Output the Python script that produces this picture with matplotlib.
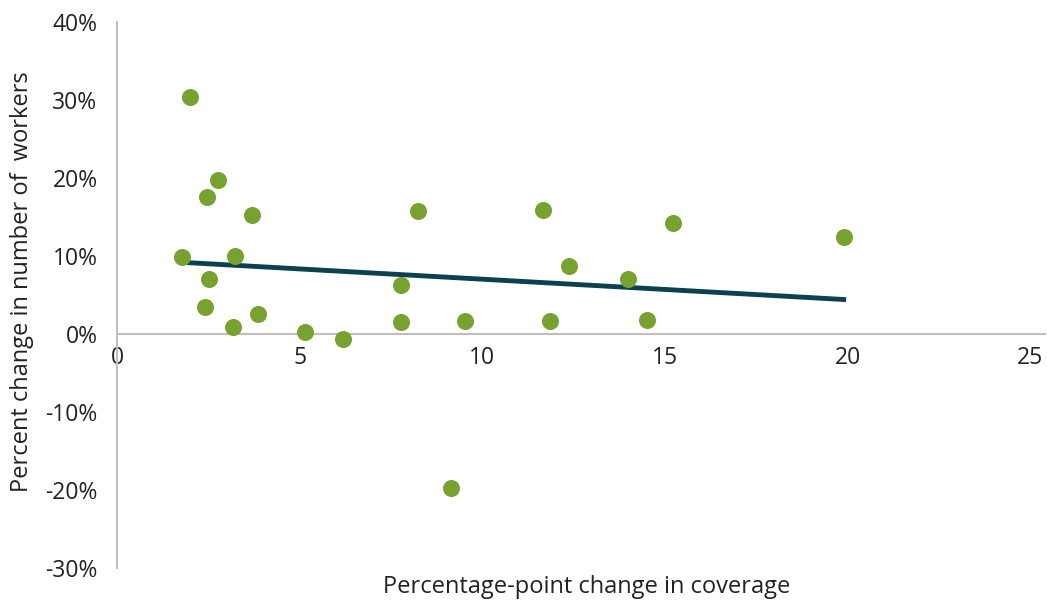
import numpy as np
import matplotlib.pyplot as plt

plt.rcParams['font.family'] = ['Open Sans', 'DejaVu Sans']

# percentage-point change in coverage
coverage = [2.0, 2.77, 2.47, 3.7, 1.78, 3.23, 2.52, 2.41, 3.86, 3.18, 5.15, 6.19,
            7.78, 7.78, 8.25, 9.15, 9.53, 11.67, 11.86, 12.38, 14.0, 14.52, 15.23, 19.89]
# percent change in number of workers
workers = [30.4, 19.7, 17.6, 15.3, 9.9, 10.0, 7.1, 3.5, 2.6, 0.9, 0.3, -0.6,
           6.3, 1.5, 15.8, -19.7, 1.7, 15.9, 1.7, 8.7, 7.1, 1.8, 14.2, 12.4]

x_ticks = [0, 5, 10, 15, 20, 25]
y_ticks = [-30, -20, -10, 0, 10, 20, 30, 40]

fig = plt.figure(figsize=(10.47, 6.01), dpi=100)
ax = fig.add_axes([117 / 1047, 1 - 568 / 601, (1045 - 117) / 1047, (568 - 22) / 601])

ax.scatter(coverage, workers, s=150, color='#77A22F', zorder=3, linewidths=0)

# linear trend line
slope, intercept = np.polyfit(coverage, workers, 1)
xs = np.array([min(coverage), max(coverage)])
ax.plot(xs, slope * xs + intercept, color='#0B4150', linewidth=3.5, zorder=2)

ax.set_xlim(0, 25.4)
ax.set_ylim(-30, 40)
ax.set_xticks(x_ticks)
ax.set_yticks(y_ticks)
ax.set_yticklabels([f'{v}%' for v in y_ticks])
ax.tick_params(length=0, labelsize=16.5, colors='#222222')
ax.tick_params(axis='x', pad=9)
ax.tick_params(axis='y', pad=14)

for s in ['top', 'right']:
    ax.spines[s].set_visible(False)
ax.spines['bottom'].set_position(('data', 0))
ax.spines['bottom'].set_color('#BFBFBF')
ax.spines['left'].set_color('#BFBFBF')
ax.spines['bottom'].set_linewidth(1.5)
ax.spines['left'].set_linewidth(1.5)

fig.text(587 / 1047, 1 - 587 / 601, 'Percentage-point change in coverage',
         ha='center', va='center', fontsize=17, color='#222222')
fig.text(22 / 1047, 1 - 282 / 601, 'Percent change in number of  workers',
         ha='center', va='center', rotation=90, fontsize=17, color='#222222')

fig.savefig('out.png', dpi=100)
